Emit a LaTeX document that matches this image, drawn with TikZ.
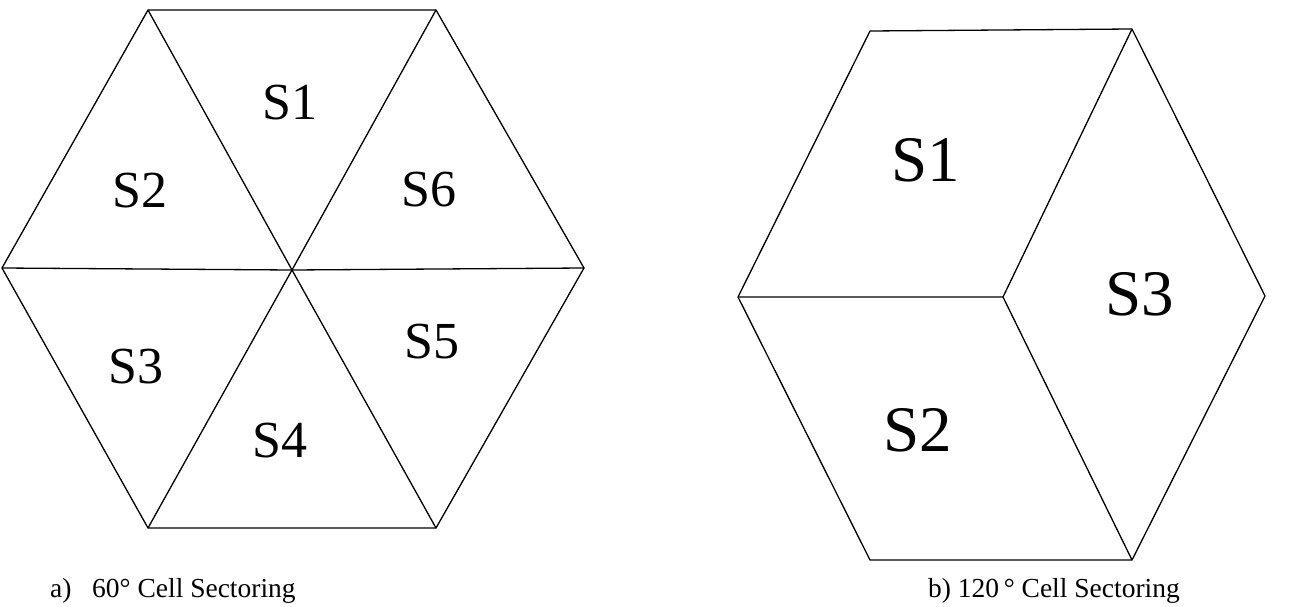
\documentclass[tikz,border=0pt]{standalone}
\usepackage{fontspec}
\setmainfont{Liberation Serif}
\usetikzlibrary{calc}
\tikzset{%
  myline/.style={draw=black, line width=1.3pt, line join=miter},
  mylabel/.style={inner sep=0pt, font=\fontsize{52}{52}\selectfont},
  biglabel/.style={inner sep=0pt, font=\fontsize{65}{65}\selectfont},
  mycaption/.style={inner sep=0pt, anchor=base west, font=\fontsize{27.5}{28}\selectfont}
}
\begin{document}
\begin{tikzpicture}[x=1pt, y=-1pt]
  \useasboundingbox (0,0) rectangle (1298,607);
  % a) six sectors
  \coordinate (a0) at (292,270);
  \coordinate (a1) at (148,10);
  \coordinate (a2) at (436,10);
  \coordinate (a3) at (584,268);
  \coordinate (a4) at (436,528);
  \coordinate (a5) at (148,528);
  \coordinate (a6) at (2,268);
  \draw [myline] (a1) -- (a2) -- (a3) -- (a4) -- (a5) -- (a6) -- cycle;
  \foreach \v in {1,...,6}
    \draw [myline] (a0) -- (a\v);
  \node[mylabel] (s1a) at (290,103) {S1};
  \node[mylabel] (s2a) at (140,191) {S2};
  \node[mylabel] (s6a) at (429,190) {S6};
  \node[mylabel] (s3a) at (136,367) {S3};
  \node[mylabel] (s5a) at (432,342) {S5};
  \node[mylabel] (s4a) at (280,441) {S4};
  \node[mycaption] (capa) at (50,597) {a)\hspace{0.75em}60° Cell Sectoring};
  % b) three sectors
  \coordinate (b0) at (1003,297);
  \coordinate (b1) at (870,31);
  \coordinate (b2) at (1132,29);
  \coordinate (b3) at (1265,296);
  \coordinate (b4) at (1132,560);
  \coordinate (b5) at (870,560);
  \coordinate (b6) at (738,297);
  \draw [myline] (b1) -- (b2) -- (b3) -- (b4) -- (b5) -- (b6) -- cycle;
  \draw [myline] (b6) -- (b0) -- (b2);
  \draw [myline] (b0) -- (b4);
  \node[biglabel] (s1b) at (926,160) {S1};
  \node[biglabel] (s3b) at (1140,294) {S3};
  \node[biglabel] (s2b) at (918,430) {S2};
  \node[mycaption] (capb) at (928,597) {b) 120\,° Cell Sectoring};
\end{tikzpicture}
\end{document}
